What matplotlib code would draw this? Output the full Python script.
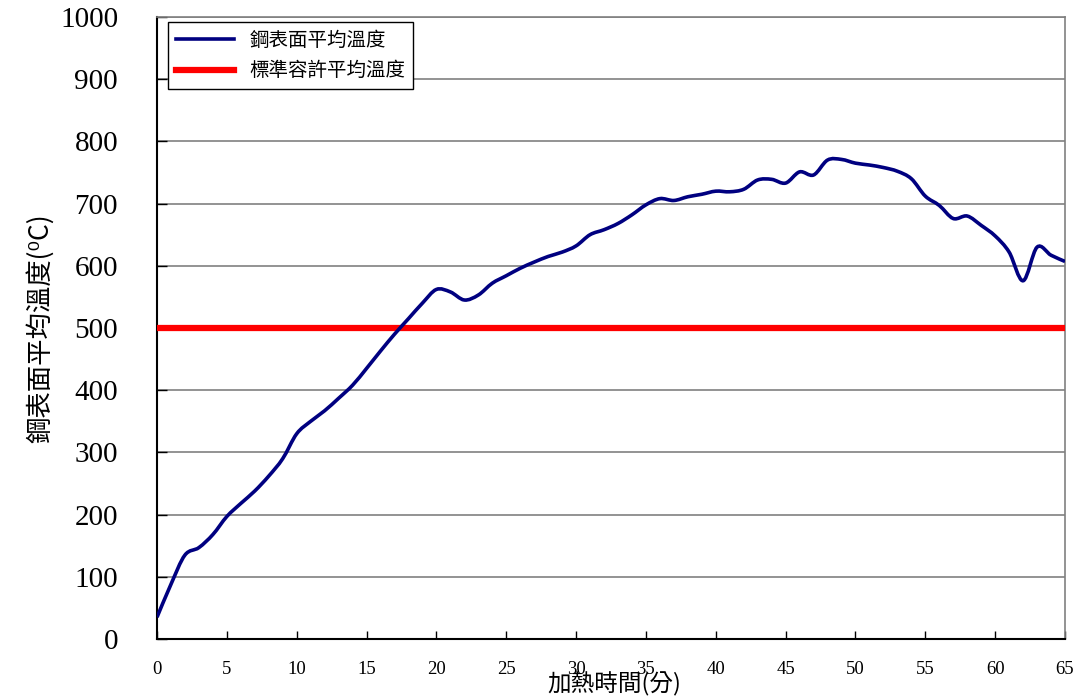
import numpy as np
import matplotlib
matplotlib.use('Agg')
import matplotlib.pyplot as plt
from matplotlib.path import Path
from matplotlib.patches import PathPatch
from matplotlib.lines import Line2D

plt.rcParams['font.family'] = ['Noto Sans CJK TC', 'DejaVu Sans']

# heating time (min) and mean steel surface temperature (C)
minutes = list(range(0, 66))
temp = [35, 88, 135, 147, 168, 197, 218, 238, 262, 290,
        330, 350, 367, 387, 408, 435, 463, 490, 515, 540,
        562, 558, 545, 553, 572, 584, 596, 606, 615, 622,
        632, 650, 658, 668, 682, 698, 708, 705, 711, 715,
        720, 719, 723, 738, 739, 733, 751, 746, 770, 771,
        765, 762, 758, 752, 740, 712, 697, 676, 680, 665,
        648, 622, 576, 630, 617, 607]
limit_temp = 500
series_names = ['鋼表面平均溫度', '標準容許平均溫度']
xticks = list(range(0, 66, 5))
yticks = list(range(0, 1001, 100))

num_font = 'Liberation Serif'


def smooth_path(x, y):
    # catmull-rom style smoothing drawn as bezier curves (like excel smoothed lines)
    pts = np.column_stack([x, y]).astype(float)
    n = len(pts)
    verts = [pts[0]]
    codes = [Path.MOVETO]
    for i in range(n - 1):
        p0 = pts[i - 1] if i > 0 else pts[i]
        p1 = pts[i]
        p2 = pts[i + 1]
        p3 = pts[i + 2] if i + 2 < n else pts[i + 1]
        c1 = p1 + (p2 - p0) / 6.0
        c2 = p2 - (p3 - p1) / 6.0
        verts += [c1, c2, p2]
        codes += [Path.CURVE4] * 3
    return Path(verts, codes)


fig = plt.figure(figsize=(10.82, 6.99), dpi=100)
ax = fig.add_axes([0.1451, 0.0858, 0.8392, 0.8899])

ax.set_xlim(0, 65)
ax.set_ylim(0, 1000)
ax.set_yticks(yticks)
ax.set_xticks(xticks)
ax.grid(axis='y', color='#808080', linewidth=1.2)
ax.set_axisbelow(True)

ax.axhline(limit_temp, color='#ff0000', linewidth=4.5, zorder=3)
patch = PathPatch(smooth_path(minutes, temp), facecolor='none',
                  edgecolor='#000080', linewidth=2.6, zorder=4)
ax.add_patch(patch)

for s in ['top', 'right']:
    ax.spines[s].set_color('#808080')
    ax.spines[s].set_linewidth(1.2)
for s in ['left', 'bottom']:
    ax.spines[s].set_color('black')
    ax.spines[s].set_linewidth(1.5)

ax.tick_params(axis='x', direction='in', length=6, width=1, pad=16)
ax.tick_params(axis='y', direction='in', length=7, width=1, pad=28)
for lab in ax.get_xticklabels():
    lab.set_fontfamily(num_font)
    lab.set_fontsize(13.5)
for lab in ax.get_yticklabels():
    lab.set_fontfamily(num_font)
    lab.set_fontsize(21)

ax.set_xlabel('加熱時間(分)', fontsize=17)
ax.xaxis.set_label_coords(0.504, -0.073)
ax.xaxis.label.set_va('center')
ax.set_ylabel('鋼表面平均溫度(⁰C)', fontsize=19)
ax.yaxis.set_label_coords(-0.129, 0.5)
ax.yaxis.label.set_va('center')

handles = [Line2D([], [], color='#000080', linewidth=2.6),
           Line2D([], [], color='#ff0000', linewidth=4.5)]
leg = ax.legend(handles, series_names, loc='upper left',
                bbox_to_anchor=(0.0121, 0.992), borderaxespad=0,
                fancybox=False, edgecolor='black', framealpha=1,
                fontsize=14, handlelength=3.0, borderpad=0.4,
                labelspacing=0.5)
leg.get_frame().set_linewidth(1)

fig.savefig('out.png', dpi=100)
